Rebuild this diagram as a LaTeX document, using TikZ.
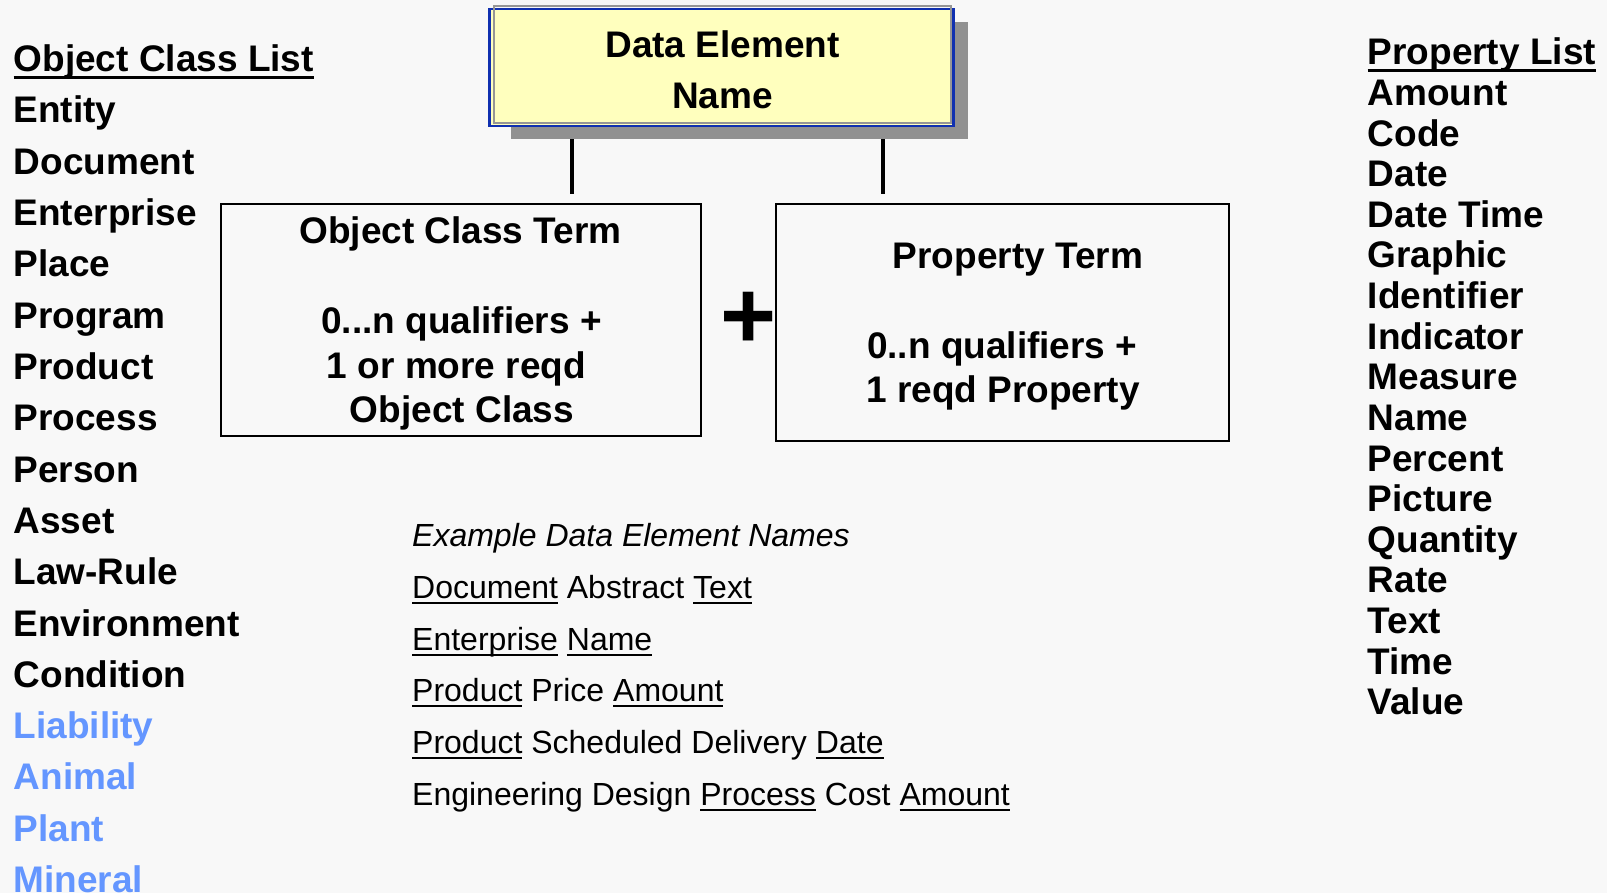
\documentclass[tikz,border=0pt]{standalone}
\usepackage{fontspec}
\setmainfont{Liberation Sans}
\usetikzlibrary{calc}
\definecolor{bg}{RGB}{248,248,248}
\definecolor{lblue}{RGB}{100,150,255}
\definecolor{deblue}{RGB}{16,48,176}
\definecolor{deyellow}{RGB}{255,255,190}
\definecolor{shadowgray}{RGB}{145,145,145}
\definecolor{linegray}{RGB}{150,150,150}
\newcommand\ulA[1]{\setbox0\hbox{#1}\rlap{\rule[-7pt]{\wd0}{3pt}}\box0\relax}
\newcommand\ulB[1]{\setbox0\hbox{#1}\rlap{\rule[-6pt]{\wd0}{2.3pt}}\box0\relax}
\begin{document}
\begin{tikzpicture}[x=1pt,y=-1pt,
  lst/.style={anchor=base west, inner sep=0pt, font=\fontsize{37}{40}\selectfont\bfseries},
  blu/.style={lst, text=lblue},
  bx/.style={anchor=base, inner sep=0pt, font=\fontsize{37}{40}\selectfont\bfseries},
  ex/.style={anchor=base west, inner sep=0pt, font=\fontsize{32}{36}\selectfont},
  termbox/.style={draw=black, line width=2pt, rectangle, inner sep=0pt},
  conn/.style={line width=4.5pt}
]
\useasboundingbox (0,0) rectangle (1607,893);
\fill[bg] (0,0) rectangle (1607,893);

% left list
\node[lst] (ochead) at (13.5,71.7) {\ulA{Object Class List}};
\foreach \t [count=\i] in {Entity,Document,Enterprise,Place,Program,Product,Process,Person,Asset,Law-Rule,Environment,Condition}
  \node[lst] (oc\i) at (13.5,{71.7+51.3*\i}) {\t};
\foreach \t [count=\i from 13] in {Liability,Animal,Plant,Mineral}
  \node[blu] (oc\i) at (13.5,{71.7+51.3*\i}) {\t};

% right list
\node[lst] (plhead) at (1367.5,65) {\ulA{Property List}};
\foreach \t [count=\i] in {Amount,Code,Date,Date Time,Graphic,Identifier,Indicator,Measure,Name,Percent,Picture,Quantity,Rate,Text,Time,Value}
  \node[lst] (pl\i) at (1367.5,{65+40.6*\i}) {\t};

% data element box
\fill[shadowgray] (511,22) rectangle (968,139.3);
\node[draw=deblue, line width=2.3pt, fill=deyellow, minimum width=464pt, minimum height=117pt, inner sep=0pt] (de) at (721.5,67.8) {};
\draw[linegray, line width=2pt] (493.5,6) rectangle (951,123.5);
\node[bx] (deA) at (722.5,57.8) {Data Element};
\node[bx] (deB) at (722.5,108.8) {Name};

% term boxes
\node[termbox, minimum width=480.5pt, minimum height=231.5pt] (ocbox) at (460.75,319.75) {};
\node[bx] (ocA) at (460.5,243.8) {Object Class Term};
\node[bx] (ocB) at (461.5,333.2) {0...n qualifiers +};
\node[bx] (ocC) at (456.5,378.2) {1 or more reqd};
\node[bx] (ocD) at (462,422.2) {Object Class};

\node[termbox, minimum width=453.5pt, minimum height=236.5pt] (ptbox) at (1002.25,322.75) {};
\node[bx] (ptA) at (1018,268.2) {Property Term};
\node[bx] (ptB) at (1002.2,358.8) {0..n qualifiers +};
\node[bx] (ptC) at (1003,402.8) {1 reqd Property};

% connectors
\coordinate (c1t) at (572,139.3);
\coordinate (c1b) at (572,194);
\coordinate (c2t) at (883,139.3);
\coordinate (c2b) at (883,194);
\draw[conn] (c1t) -- (c1b);
\draw[conn] (c2t) -- (c2b);

% plus
\node[inner sep=0pt, font=\fontsize{96}{96}\selectfont\bfseries] (plus) at (749,320) {+};

% examples
\node[ex, font=\fontsize{32}{36}\selectfont\itshape] (ex0) at (412,546) {Example Data Element Names};
\node[ex] (ex1) at (412,598) {\ulB{Document} Abstract \ulB{Text}};
\node[ex] (ex2) at (412,650) {\ulB{Enterprise} \ulB{Name}};
\node[ex] (ex3) at (412,701) {\ulB{Product} Price \ulB{Amount}};
\node[ex] (ex4) at (412,753) {\ulB{Product} Scheduled Delivery \ulB{Date}};
\node[ex] (ex5) at (412,805) {Engineering Design \ulB{Process} Cost \ulB{Amount}};
\end{tikzpicture}
\end{document}
